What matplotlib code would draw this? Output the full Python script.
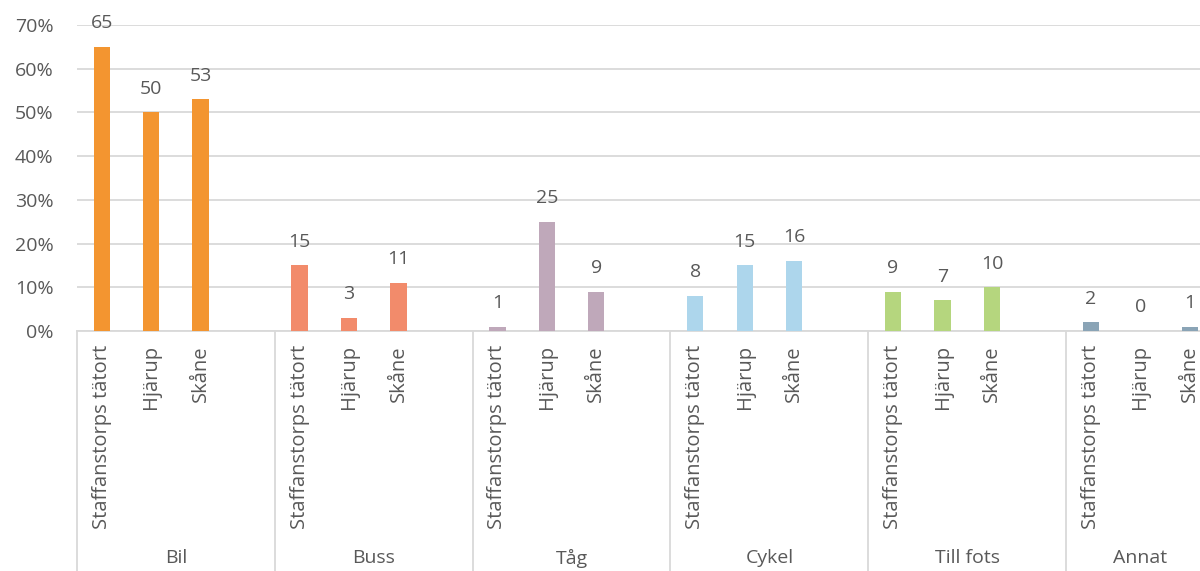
import matplotlib.pyplot as plt
import matplotlib.transforms as mtransforms

plt.rcParams['font.family'] = ['Open Sans', 'DejaVu Sans']

# data
kategorier = ['Bil', 'Buss', 'Tåg', 'Cykel', 'Till fots', 'Annat']
omraden = ['Staffanstorps tätort', 'Hjärup', 'Skåne']
varden = [
    [65, 50, 53],
    [15, 3, 11],
    [1, 25, 9],
    [8, 15, 16],
    [9, 7, 10],
    [2, 0, 1],
]
farger = ['#F39530', '#F28B6B', '#BFA8BA', '#ADD6EC', '#B5D67E', '#8AA4B6']
yticks = [0, 10, 20, 30, 40, 50, 60, 70]

textfarg = '#595959'
linjefarg = '#D9D9D9'
fs = 14

fig = plt.figure(figsize=(12, 5.71), dpi=100)
# axes extends past the right edge, as in the reference (cut off)
ax = fig.add_axes([77 / 1200, 1 - 331 / 571, (1264 - 77) / 1200, (331 - 25) / 571])

for i, (kat, vals, col) in enumerate(zip(kategorier, varden, farger)):
    xs = [i * 4 + j for j in range(3)]
    ax.bar(xs, [v / 100 for v in vals], width=0.33, color=col, zorder=3)
    for x, v in zip(xs, vals):
        ax.text(x, v / 100 + 0.054, str(v), ha='center', va='center',
                fontsize=fs, color=textfarg, clip_on=False)

ax.set_xlim(-0.5, len(kategorier) * 4 - 0.5)
ax.set_ylim(0, 0.7)
ax.set_yticks([t / 100 for t in yticks])
ax.set_yticklabels([f'{t}%' for t in yticks])
ax.tick_params(axis='y', length=0, labelsize=fs, labelcolor=textfarg, pad=17)
ax.set_xticks([])
ax.grid(axis='y', color=linjefarg, linewidth=1.3, zorder=0)
for s in ['top', 'right', 'left']:
    ax.spines[s].set_visible(False)
ax.spines['bottom'].set_color(linjefarg)
ax.spines['bottom'].set_linewidth(1.3)

trans = mtransforms.blended_transform_factory(ax.transData, ax.transAxes)
bottom = -(571 - 331) / 306
for i in range(len(kategorier) + 1):
    ax.plot([i * 4 - 0.5, i * 4 - 0.5], [0, bottom], transform=trans,
            color=linjefarg, linewidth=1.3, clip_on=False)

for i, kat in enumerate(kategorier):
    for j, omr in enumerate(omraden):
        ax.text(i * 4 + j, -14 / 306, omr, transform=trans, rotation=90,
                ha='center', va='top', fontsize=fs + 0.5, color=textfarg)
    # last group is cut off, its label sits in the middle of the visible part
    kx = i * 4 + 1.5 if i < len(kategorier) - 1 else i * 4 + 1
    ax.text(kx, -(558 - 331) / 306, kat, transform=trans,
            ha='center', va='center', fontsize=fs, color=textfarg)

fig.savefig('out.png', dpi=100)
